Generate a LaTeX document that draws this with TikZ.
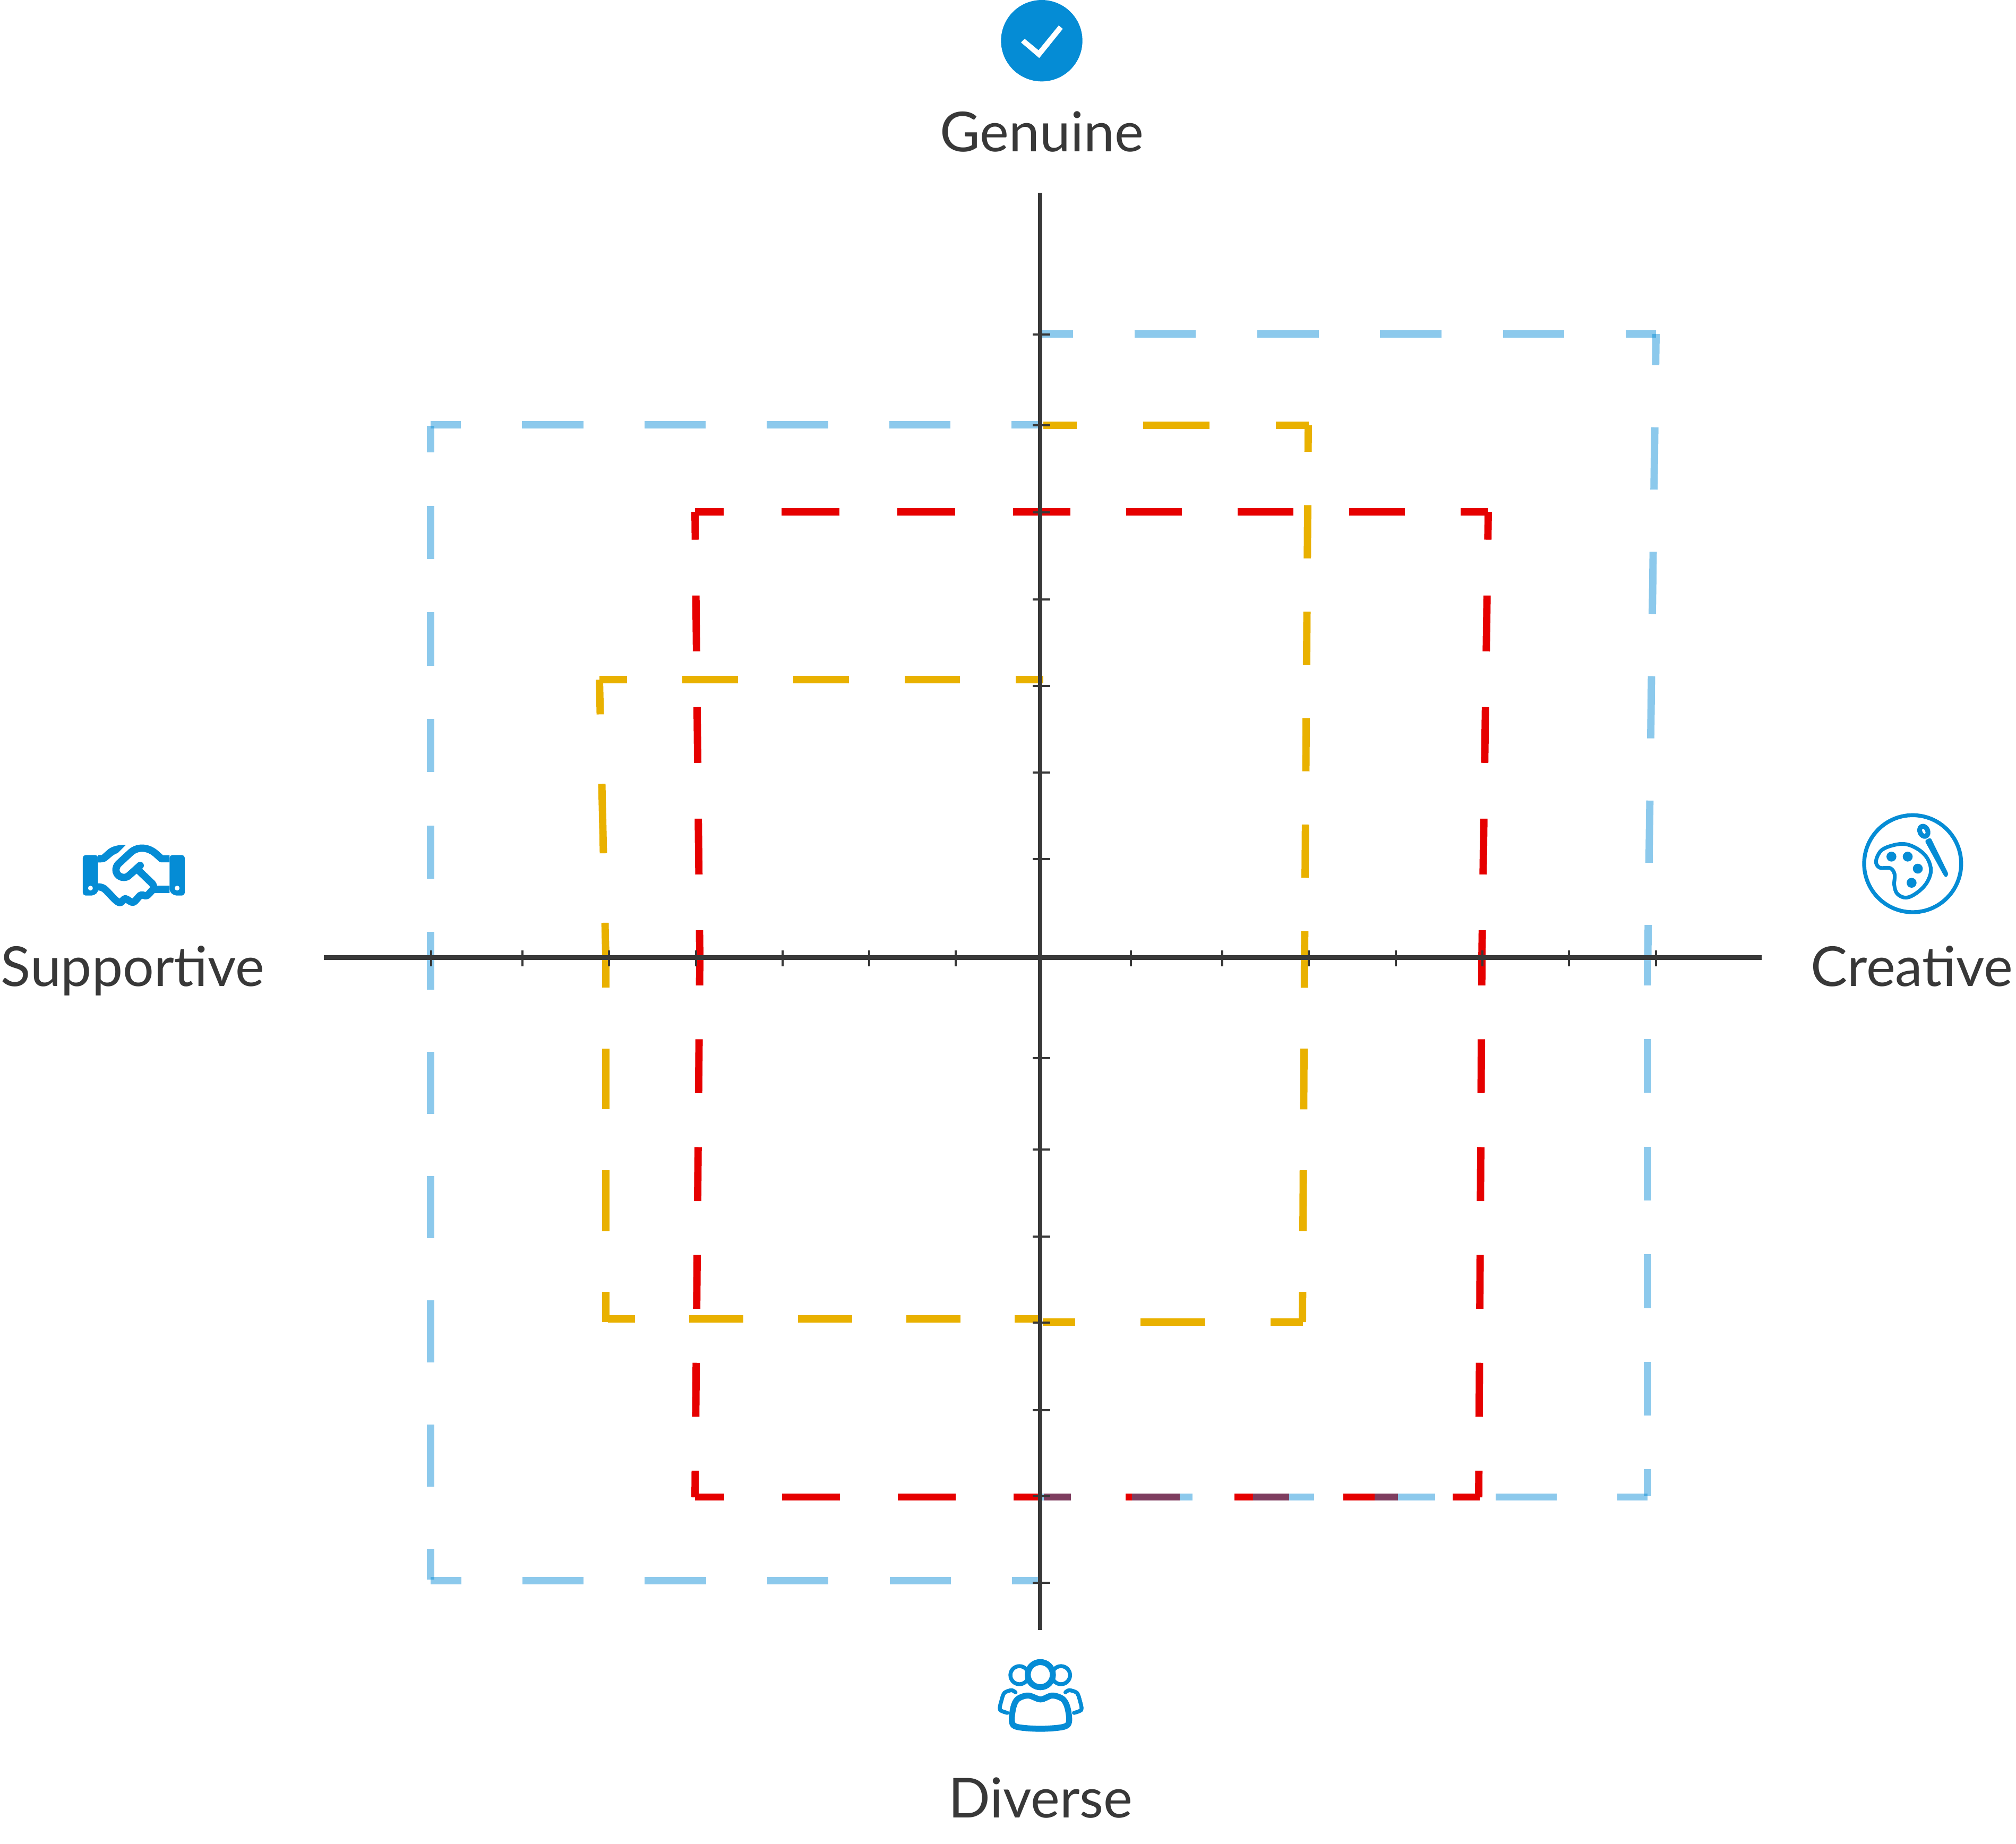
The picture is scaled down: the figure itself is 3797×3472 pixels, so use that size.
\documentclass[tikz,border=0pt]{standalone}
\usepackage{fontspec}
\setmainfont{Lato}
\definecolor{axisgray}{HTML}{383838}
\definecolor{iconblue}{HTML}{058CD5}
\definecolor{seriesblue}{HTML}{0088D4}
\definecolor{seriesred}{HTML}{E60000}
\definecolor{seriesgold}{HTML}{E9B100}
\tikzset{
	seriesline/.style={line width=3.95pt},
	bluedash/.style={seriesline,draw=seriesblue,draw opacity=.45},
	reddash/.style={seriesline,draw=seriesred},
	golddash/.style={seriesline,draw=seriesgold},
	axisname/.style={anchor=base,text=axisgray,font=\fontsize{29.5}{36}\selectfont,inner sep=0pt},
	iconline/.style={draw=iconblue,line cap=round,line join=round},
}
% every side holds a whole number of dashes, half a dash at each end
\newcommand{\sides}[2]{%
	\foreach \xa/\ya/\xb/\yb/\n in {#2}{
		\pgfmathsetmacro\dashlen{veclen(\xb-\xa,\yb-\ya)/(2*\n)*.28453}
		\pgfmathsetmacro\dashoff{\dashlen/2}
		\draw[#1,dash pattern=on \dashlen pt off \dashlen pt,dash phase=\dashoff pt] (\xa,\ya)--(\xb,\yb);
	}}
\begin{document}
\begin{tikzpicture}[x=.01cm,y=-.01cm,line join=miter]
	\useasboundingbox (0,0) rectangle (3797,3472);
	% dashed series
	\sides{golddash}{1965/801/2465/801/2, 2464/801/2457/1803/5, 2457/1803/2453/2490/3, 2454/2490/1964/2490/2,
		1965/1280/1129/1280/4, 1129/1280/1141/1803/2, 1141/1803/1141/2490/3, 1145/2484/1962/2484/4}
	\sides{reddash}{1963/964/2803/964/4, 2803/964/2791/1804/4, 2791/1805/2785/2820/5, 2787/2819.5/1966/2819.5/4,
		1963/964/1309/964/3, 1309/964/1318/1804/4, 1318/1805/1309/2820/5, 1309/2819.5/1963/2819.5/3}
	\sides{bluedash}{1963/629/3119/629/5, 3119/629/3103.5/1800/5, 3103/1805/3103/2817.5/5, 3103/2819.5/1961/2819.5/5,
		1963/800/811/800/5, 811/802/811/1805/5, 811/1805/811/2975/5, 811/2977/1963/2977/5}
	% axes
	\draw[axisgray,line width=2.4pt] (610,1803.5)--(3318,1803.5);
	\draw[axisgray,line width=2.4pt] (1959,363)--(1959,3070);
	\foreach \x in {812,984,1147,1311,1474,1637,1800,2130,2302,2465,2629,2792,2955,3119}
		\draw[axisgray,line width=1.25pt] (\x,1790)--(\x,1820);
	\foreach \y in {630,801,965,1129,1292,1455,1618,1993,2165,2329,2491,2656,2818,2981}
		\draw[axisgray,line width=1.25pt] (1945,\y)--(1978,\y);
	% names
	\node[axisname] (genuine) at (1962,285) {Genuine};
	\node[axisname] (supportive) at (250,1857) {Supportive};
	\node[axisname] (creative) at (3601,1857) {Creative};
	\node[axisname] (diverse) at (1960,3423) {Diverse};
	% check mark
	\begin{scope}[shift={(1700,0)},scale=1/3]
		\fill[iconblue] (786,230) circle (230);
		\fill[white] (669,240)--(689,219)--(768,284)--(882,144)--(905,163)--(772,328)--cycle;
	\end{scope}
	% handshake
	\begin{scope}[shift={(0,1540)},scale=1/3]
		\fill[iconblue,even odd rule,rounded corners=1.5pt] (468,211)--(554,211)--(554,395)--(556,418)--(530,440)--(468,440)--cycle (511,398) circle (14);
		\fill[iconblue,even odd rule,rounded corners=1.5pt] (958,211)--(1044,211)--(1044,440)--(985,440)--(958,418)--cycle (1001,398) circle (14);
		\fill[iconblue] (554,211)--(575,211)--(610,180) .. controls (635,160) and (670,153) .. (712,153)--(665,200) .. controls (640,208) and (625,225) .. (605,242) .. controls (590,253) and (575,253) .. (554,253)--cycle;
		\draw[iconline,line width=3.9pt,line cap=butt] (958,232)--(912,232)--(880,203) .. controls (830,160) and (770,165) .. (735,200)--(668,262) .. controls (635,300) and (670,350) .. (715,335)--(725,330)--(792,270);
		\fill[iconblue] (792,270) circle (21);
		\draw[iconline,line width=3.9pt,line cap=butt] (785,300)--(860,372) .. controls (870,385) and (870,400) .. (868,405)--(958,405);
		\draw[iconline,line width=3.9pt] plot[smooth,tension=.55] coordinates {(556,391)(590,402)(650,463)(680,480)(708,458)(752,478)(795,438)(830,440)(868,400)};
	\end{scope}
	% palette and brush
	\begin{scope}[shift={(3380,1500)},scale=1/3]
		\draw[iconline,line width=2.1pt] (667,380) circle (274);
		\draw[iconline,line width=2pt] plot[smooth cycle,tension=.6] coordinates {(460,365)(490,305)(560,275)(630,270)(700,300)(750,350)(770,420)(745,490)(690,545)(630,572)(580,550)(563,500)(565,440)(540,405)(480,402)};
		\foreach \dotx/\doty in {547/340,639/340,696/408,661/488}
			\fill[iconblue] (\dotx,\doty) circle (28);
		\fill[iconblue,rounded corners=1pt] (735,250)--(768,232)--(870,440)--(855,460)--(842,445)--cycle;
		\draw[iconline,line width=2.6pt,rotate around={25:(730,197)}] (730,197) ellipse (22 and 30);
	\end{scope}
	% people
	\begin{scope}[shift={(1780,3080)},scale=1/3]
		\draw[iconline,line width=2.1pt] (420,225) circle (51) (655,225) circle (51);
		\draw[iconline,line width=3.2pt,fill=white] (538,222) circle (71);
		\draw[iconline,line width=3.2pt] plot[smooth cycle,tension=.55] coordinates {(378,490)(385,410)(410,360)(470,340)(540,362)(605,340)(665,360)(692,410)(700,490)(665,518)(538,528)(410,518)};
		\draw[iconline,line width=2.1pt] plot[smooth,tension=.5] coordinates {(398,322)(375,310)(335,325)(318,370)(310,420)(352,438)};
		\draw[iconline,line width=2.1pt] plot[smooth,tension=.5] coordinates {(680,322)(702,310)(745,325)(762,370)(770,420)(728,438)};
	\end{scope}
\end{tikzpicture}
\end{document}
